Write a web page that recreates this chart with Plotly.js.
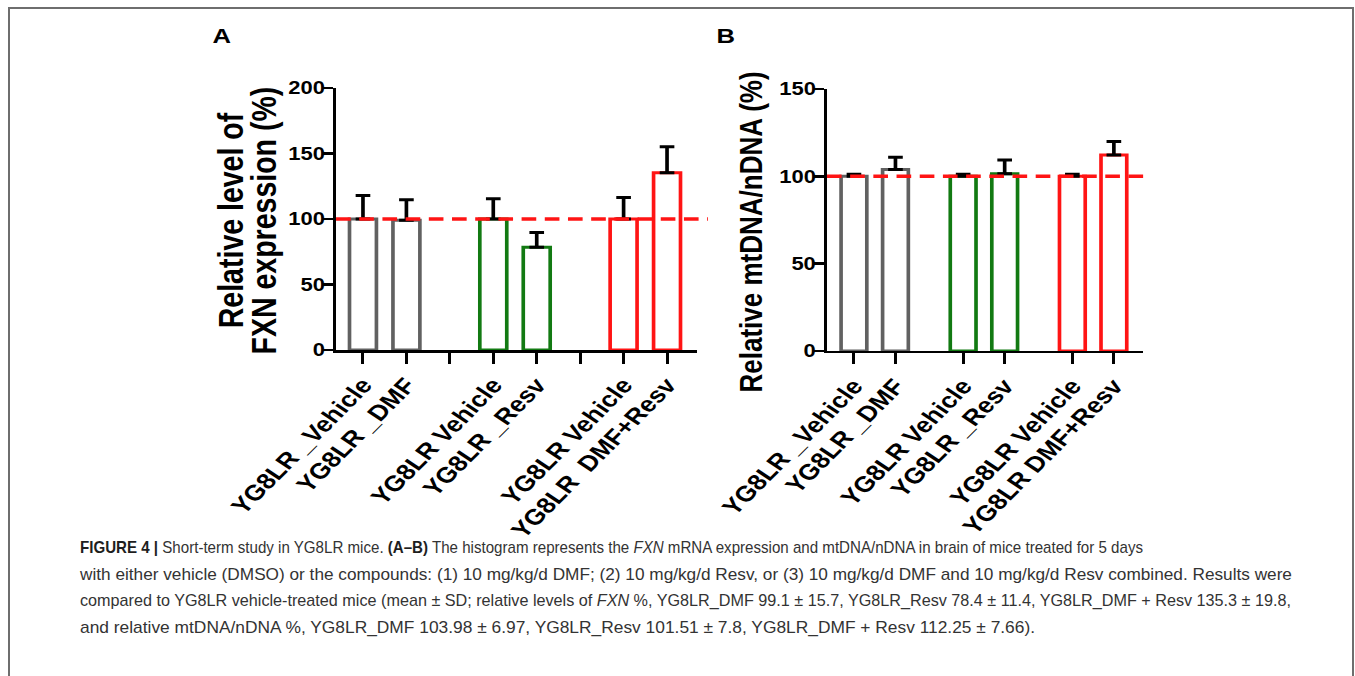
<!DOCTYPE html>
<html>
<head>
<meta charset="utf-8">
<script src="https://cdn.plot.ly/plotly-3.0.1.min.js"></script>
<style>
  html, body { margin: 0; padding: 0; background: #ffffff; }
  body { width: 1355px; height: 676px; position: relative; overflow: hidden; }
  #frame { position: absolute; left: 8px; top: 7px; width: 1346px; height: 720px; z-index: 5;
           border: 2px solid #6e6e6e; border-bottom: none; box-sizing: border-box; pointer-events: none; }
  #wrap { position: absolute; left: 0; top: 0; width: 1110px; height: 676px;
          transform-origin: 0 0; transform: scaleX(1.22072); }
  #plot { width: 1110px; height: 676px; }
  .cap { position: absolute; left: 80px; white-space: nowrap; transform-origin: 0 50%;
         font-family: 'Liberation Sans', Arial, sans-serif;
         font-size: 17px; color: #333333; line-height: 20px; }
  .cap b { font-weight: bold; color: #1e1e1e; }
</style>
</head>
<body>
<div id="frame"></div>
<div id="wrap"><div id="plot"></div></div>
<div class="cap" id="c1" style="top:538px"><b>FIGURE 4 |</b> Short-term study in YG8LR mice. <b>(A–B)</b> The histogram represents the <i>FXN</i> mRNA expression and mtDNA/nDNA in brain of mice treated for 5 days</div>
<div class="cap" id="c2" style="top:565px">with either vehicle (DMSO) or the compounds: (1) 10 mg/kg/d DMF; (2) 10 mg/kg/d Resv, or (3) 10 mg/kg/d DMF and 10 mg/kg/d Resv combined. Results were</div>
<div class="cap" id="c3" style="top:591px">compared to YG8LR vehicle-treated mice (mean ± SD; relative levels of <i>FXN</i> %, YG8LR_DMF 99.1 ± 15.7, YG8LR_Resv 78.4 ± 11.4, YG8LR_DMF + Resv 135.3 ± 19.8,</div>
<div class="cap" id="c4" style="top:618px">and relative mtDNA/nDNA %, YG8LR_DMF 103.98 ± 6.97, YG8LR_Resv 101.51 ± 7.8, YG8LR_DMF + Resv 112.25 ± 7.66).</div>
<script>
// ---- data ----
const categoriesA = ['YG8LR _Vehicle', 'YG8LR _DMF', 'YG8LR Vehicle', 'YG8LR _Resv', 'YG8LR Vehicle', 'YG8LR  DMF+Resv'];
const categoriesB = ['YG8LR _Vehicle', 'YG8LR _DMF', 'YG8LR Vehicle', 'YG8LR _Resv', 'YG8LR Vehicle', 'YG8LR DMF+Resv'];
const fxnMean = [100, 99.1, 100, 78.4, 100, 135.3];
const fxnSD   = [18, 15.7, 15.5, 11.4, 16.5, 19.8];
const mtMean  = [100, 103.98, 100, 101.51, 100, 112.25];
const mtSD    = [1.2, 6.97, 1.2, 7.8, 1.2, 7.66];
const ticksA  = [0, 50, 100, 150, 200];
const ticksB  = [0, 50, 100, 150];
const referenceLevel = 100;

// ---- styling ----
const groupColors = ['#616161', '#127a12', '#ff1414'];
const FONT = 'Liberation Sans, Arial, sans-serif';
const ANGLE = -50.7;   // appears as 45 degrees after the horizontal stretch

function positions(n, step) {
  const xs = [];
  for (let i = 0; i < n; i++) xs.push(Math.floor(i / 2) * step + (i % 2));
  return xs;
}
const colorsFor = n => Array.from({length: n}, (_, i) => groupColors[Math.floor(i / 2)]);

const xA = positions(categoriesA.length, 3);
const xB = positions(categoriesB.length, 2.63);

// tick marks of panel A include the empty gap slots
const tickValsA = [], tickTextA = [];
for (let g = 0; g < 3; g++) {
  tickValsA.push(g * 3, g * 3 + 1); tickTextA.push(categoriesA[g * 2], categoriesA[g * 2 + 1]);
  if (g < 2) { tickValsA.push(g * 3 + 2); tickTextA.push(''); }
}

function barTrace(xs, ys, sd, xa, ya) {
  return {
    type: 'bar', x: xs, y: ys, xaxis: xa, yaxis: ya, width: 0.62,
    marker: { color: 'rgba(255,255,255,0)', line: { color: colorsFor(ys.length), width: 3 } },
    error_y: { type: 'data', symmetric: false, array: sd, arrayminus: sd.map(() => 0),
               color: '#000000', thickness: 3, width: 6 },
    hoverinfo: 'skip', showlegend: false
  };
}

const tickFont = { family: FONT, size: 18, color: '#000', weight: 'bold' };
const xTickFont = { family: FONT, size: 22, color: '#000', weight: 'bold' };

const yCommon = { showgrid: false, zeroline: false, showline: true, linecolor: '#000', linewidth: 2.5,
                  ticks: 'outside', ticklen: 9, tickwidth: 2.5, tickcolor: '#000', tickfont: tickFont,
                  ticklabelstandoff: -6, fixedrange: true };
const xCommon = { showgrid: false, zeroline: false, showline: true, linecolor: '#000', linewidth: 2.5,
                  ticks: 'outside', ticklen: 11, tickwidth: 2.5, tickcolor: '#000', tickfont: xTickFont,
                  tickangle: ANGLE, tickmode: 'array', fixedrange: true };

const layout = {
  width: 1110, height: 676, margin: { l: 0, r: 0, t: 0, b: 0 },
  paper_bgcolor: 'rgba(255,255,255,0)', plot_bgcolor: 'rgba(0,0,0,0)',
  font: { family: FONT, color: '#000' },
  xaxis:  Object.assign({}, xCommon, { domain: [0.2480, 0.5144], anchor: 'y',  range: [-0.62, 7.69],
                                       tickvals: tickValsA, ticktext: tickTextA }),
  yaxis:  Object.assign({}, yCommon, { domain: [0.4822, 0.8698], anchor: 'x',  range: [0, 200], tickvals: ticksA }),
  xaxis2: Object.assign({}, xCommon, { domain: [0.6103, 0.8435], anchor: 'y2', range: [-0.65, 6.96],
                                       tickvals: xB, ticktext: categoriesB }),
  yaxis2: Object.assign({}, yCommon, { domain: [0.4808, 0.8683], anchor: 'x2', range: [0, 150], tickvals: ticksB }),
  shapes: [
    { type: 'line', xref: 'paper', yref: 'y',  x0: 0.2480, x1: 0.5225, y0: referenceLevel, y1: referenceLevel,
      line: { color: '#ff1414', width: 3.5, dash: '12px,7px' } },
    { type: 'line', xref: 'paper', yref: 'y2', x0: 0.6103, x1: 0.8472, y0: referenceLevel, y1: referenceLevel,
      line: { color: '#ff1414', width: 3.5, dash: '12px,7px' } }
  ],
  annotations: [
    { text: 'A', xref: 'paper', yref: 'paper', x: 0.1631, y: 0.9475, showarrow: false,
      xanchor: 'center', yanchor: 'middle', font: { family: FONT, size: 21, weight: 'bold', color: '#000' } },
    { text: 'B', xref: 'paper', yref: 'paper', x: 0.5358, y: 0.9475, showarrow: false,
      xanchor: 'center', yanchor: 'middle', font: { family: FONT, size: 21, weight: 'bold', color: '#000' } },
    { text: 'Relative level of', xref: 'paper', yref: 'paper', x: 0.1705, y: 0.6746, textangle: -90,
      showarrow: false, xanchor: 'center', yanchor: 'middle',
      font: { family: FONT, size: 28.5, weight: 'bold', color: '#000' } },
    { text: 'FXN expression (%)', xref: 'paper', yref: 'paper', x: 0.1950, y: 0.6746, textangle: -90,
      showarrow: false, xanchor: 'center', yanchor: 'middle',
      font: { family: FONT, size: 28.5, weight: 'bold', color: '#000' } },
    { text: 'Relative mtDNA/nDNA (%)', xref: 'paper', yref: 'paper', x: 0.5545, y: 0.6568, textangle: -90,
      showarrow: false, xanchor: 'center', yanchor: 'middle',
      font: { family: FONT, size: 26, weight: 'bold', color: '#000' } }
  ]
};

Plotly.newPlot('plot', [
  barTrace(xA, fxnMean, fxnSD, 'x', 'y'),
  barTrace(xB, mtMean, mtSD, 'x2', 'y2')
], layout, { staticPlot: true, displayModeBar: false });

// fit caption lines to the widths they occupy in the reference
const capWidths = { c1: 1063, c2: 1212, c3: 1211, c4: 955 };
Object.keys(capWidths).forEach(id => {
  const el = document.getElementById(id);
  const w = el.getBoundingClientRect().width;
  if (w > 0) el.style.transform = 'scaleX(' + (capWidths[id] / w).toFixed(4) + ')';
});
</script>
</body>
</html>
